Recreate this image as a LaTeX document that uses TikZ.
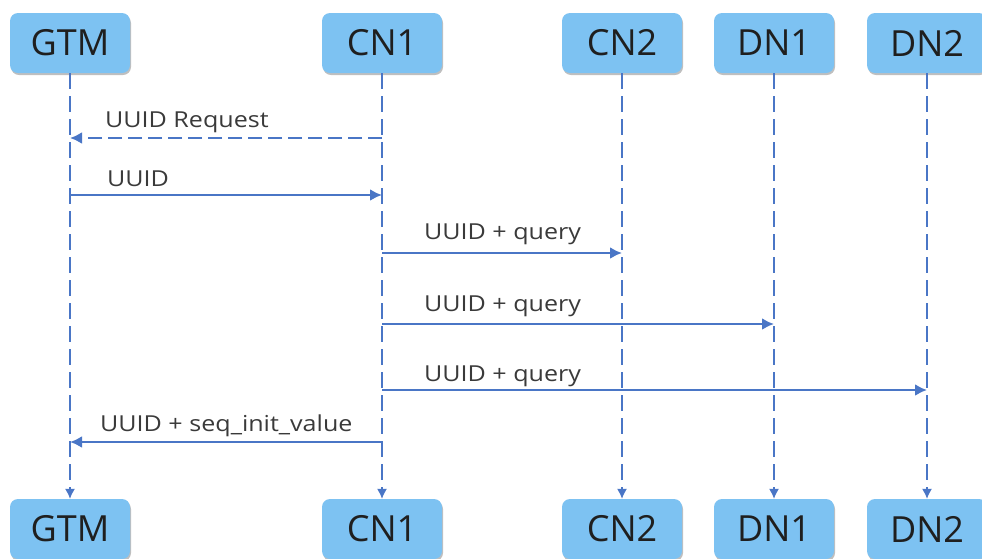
\documentclass[tikz,border=0pt]{standalone}
\usepackage{fontspec}
\setmainfont{Open Sans}
\newfontfamily\lblfont[FakeStretch=1.14]{Open Sans}
\usetikzlibrary{arrows.meta,shadows}
\definecolor{boxfill}{HTML}{7DC2F2}
\definecolor{lineblue}{HTML}{4A76C6}
\definecolor{labelgray}{HTML}{3A3A3A}
\tikzset{
  actor/.style={rounded corners=8pt, fill=boxfill, minimum width=120pt, minimum height=60pt,
    inner sep=0pt, font=\fontsize{36}{38}\selectfont, text=black!88,
    drop shadow={shadow xshift=1pt, shadow yshift=-2pt, opacity=0.25, fill=black}},
  lifeline/.style={draw=lineblue, line width=1.3pt, dash pattern=on 16pt off 7pt,
    -{Latex[length=10pt,width=10pt]}},
  msg/.style={draw=lineblue, line width=2.3pt, -{Latex[length=12pt,width=12pt]}},
  msgdash/.style={msg, dash pattern=on 14pt off 6pt},
  lbl/.style={anchor=base west, inner sep=0pt, text=labelgray, font=\lblfont\fontsize{22}{24}\selectfont}
}
\begin{document}
\begin{tikzpicture}[x=1pt,y=-1pt]
\useasboundingbox (0,0) rectangle (982,558);
% top actors
\node[actor] (gtmT) at (70,43) {GTM};
\node[actor] (cn1T) at (382,43) {CN1};
\node[actor] (cn2T) at (622,43) {CN2};
\node[actor] (dn1T) at (774,43) {DN1};
\node[actor] (dn2T) at (927,43) {DN2};
% bottom actors
\node[actor] (gtmB) at (70,529) {GTM};
\node[actor] (cn1B) at (382,529) {CN1};
\node[actor] (cn2B) at (622,529) {CN2};
\node[actor] (dn1B) at (774,529) {DN1};
\node[actor] (dn2B) at (927,529) {DN2};
% lifelines
\draw[lifeline] (gtmT.south) -- (gtmB.north);
\draw[lifeline] (cn1T.south) -- (cn1B.north);
\draw[lifeline] (cn2T.south) -- (cn2B.north);
\draw[lifeline] (dn1T.south) -- (dn1B.north);
\draw[lifeline] (dn2T.south) -- (dn2B.north);
% message points
\coordinate (m1s) at (cn1T.south |- 0,138);
\coordinate (m1e) at (gtmT.south |- 0,138);
\coordinate (m2s) at (gtmT.south |- 0,195);
\coordinate (m2e) at (cn1T.south |- 0,195);
\coordinate (m3s) at (cn1T.south |- 0,253);
\coordinate (m3e) at (cn2T.south |- 0,253);
\coordinate (m4s) at (cn1T.south |- 0,324);
\coordinate (m4e) at (dn1T.south |- 0,324);
\coordinate (m5s) at (cn1T.south |- 0,390);
\coordinate (m5e) at (dn2T.south |- 0,390);
\coordinate (m6s) at (cn1T.south |- 0,442);
\coordinate (m6e) at (gtmT.south |- 0,442);
% messages
\draw[msgdash] (m1s) -- (m1e);
\draw[msg] (m2s) -- (m2e);
\draw[msg] (m3s) -- (m3e);
\draw[msg] (m4s) -- (m4e);
\draw[msg] (m5s) -- (m5e);
\draw[msg] (m6s) -- (m6e);
% labels
\node[lbl] (l1) at (105,127) {UUID Request};
\node[lbl] (l2) at (107,186) {UUID};
\node[lbl] (l3) at (424,239) {UUID + query};
\node[lbl] (l4) at (424,311) {UUID + query};
\node[lbl] (l5) at (424,381) {UUID + query};
\node[lbl] (l6) at (100,431) {UUID + seq\_init\_value};
\end{tikzpicture}
\end{document}
